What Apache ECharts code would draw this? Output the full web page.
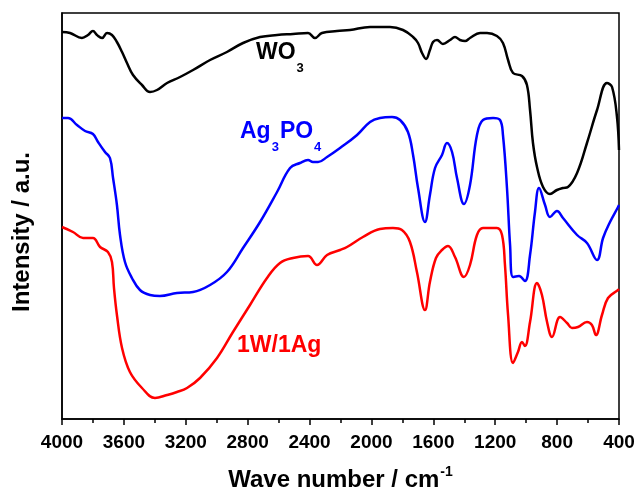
<!DOCTYPE html>
<html>
<head>
<meta charset="utf-8">
<script src="https://cdn.jsdelivr.net/npm/echarts@6/dist/echarts.min.js"></script>
<style>
html,body{margin:0;padding:0;background:#fff;}
#chart{width:638px;height:490px;}
</style>
</head>
<body>
<div id="chart"></div>
<script>
// x tick labels (wavenumber, cm-1)
const xTicks = [4000, 3600, 3200, 2800, 2400, 2000, 1600, 1200, 800, 400];

// WO3 (black)
const wnWO3 = [4000,3948,3871,3832,3800,3774,3741,3709,3677,3645,3612,3580,3541,3483,3431,3386,3321,3237,3153,3043,2934,2830,2720,2610,2507,2410,2365,2320,2223,2139,2009,1880,1796,1731,1699,1673,1647,1622,1602,1576,1538,1492,1460,1428,1395,1363,1298,1253,1189,1150,1117,1085,1027,995,975,956,930,891,846,801,762,730,671,607,542,478,445,413,400];
const intWO3 = [387,386,381,384,388,384,381,386,384,377,367,356,344,334,327,329,336,342,349,359,367,376,382,384,385,386,381,386,388,389,392,392,389,382,376,366,360,369,377,379,375,379,382,379,378,381,386,386,383,376,359,346,343,334,309,276,252,232,225,229,231,232,246,276,309,336,332,302,269];

// Ag3PO4 (blue)
const wnAg = [4000,3961,3903,3851,3800,3767,3722,3690,3670,3645,3625,3593,3548,3496,3431,3367,3257,3153,3043,2934,2830,2720,2610,2526,2462,2410,2378,2345,2287,2203,2093,2009,1945,1867,1815,1764,1731,1699,1654,1622,1589,1544,1512,1479,1447,1402,1363,1318,1279,1214,1169,1150,1124,1104,1085,1046,1008,975,943,917,878,846,801,762,671,607,542,503,458,406,400];
const intAg = [301,301,294,288,285,277,267,261,241,214,184,157,141,129,124,123,126,127,134,147,171,197,227,251,256,259,257,257,262,271,284,297,301,302,299,287,264,231,197,224,251,264,276,267,241,215,234,284,299,301,299,284,231,174,142,143,138,164,207,231,214,202,208,201,184,176,159,181,197,212,214];

// 1W/1Ag (red)
const wnW = [4000,3929,3864,3800,3754,3703,3677,3664,3645,3612,3561,3483,3399,3321,3257,3192,3108,2998,2895,2785,2675,2591,2507,2410,2352,2287,2203,2158,2055,1945,1861,1803,1751,1706,1654,1622,1583,1544,1505,1460,1402,1363,1318,1279,1189,1156,1137,1117,1085,1053,1027,1008,975,930,898,865,833,781,736,704,665,607,575,549,510,471,406,400];
const intW = [192,187,181,181,172,167,157,131,104,71,47,31,21,24,27,31,41,61,87,114,141,156,161,163,154,164,169,172,182,190,191,189,177,147,109,137,161,169,173,162,142,154,184,191,191,184,154,104,56,67,77,73,97,136,124,97,82,102,96,91,92,97,94,84,104,121,129,130];

const FONT = '"Liberation Sans", Arial, sans-serif';
function pairs(xs, ys) { return xs.map((x, i) => [x, ys[i]]); }

const chart = echarts.init(document.getElementById('chart'), null, {renderer: 'canvas'});

function subLabel(text, color, x, y) {
  return {
    type: 'text', x: x, y: y, z: 10,
    style: {
      text: text,
      fill: color,
      align: 'left',
      verticalAlign: 'top',
      rich: {
        a: {fontSize: 23, fontWeight: 'bold', fontFamily: FONT, fill: color, color: color, verticalAlign: 'top', padding: [0, 0, 11, 0]},
        b: {fontSize: 13, fontWeight: 'bold', fontFamily: FONT, fill: color, color: color, verticalAlign: 'bottom', padding: [0, 1, 0, 1]}
      }
    }
  };
}

const option = {
  animation: false,
  backgroundColor: '#fff',
  grid: {left: 62, right: 19, top: 13, bottom: 71, containLabel: false, outerBoundsMode: 'none', show: true, borderColor: '#000', borderWidth: 1.5, backgroundColor: 'transparent'},
  xAxis: {
    type: 'value',
    inverse: true,
    min: 400,
    max: 4000,
    interval: 400,
    axisLine: {show: true, lineStyle: {color: '#000', width: 1.5}},
    axisTick: {show: true, length: 6, lineStyle: {color: '#000', width: 1.5}},
    minorTick: {show: true, splitNumber: 2, length: 4, lineStyle: {color: '#000', width: 1.5}},
    splitLine: {show: false},
    minorSplitLine: {show: false},
    axisLabel: {
      color: '#000', fontSize: 19, fontWeight: 'bold', fontFamily: FONT, margin: 14,
      formatter: function (v) { return xTicks.indexOf(v) >= 0 ? String(v) : ''; }
    },
    name: '{a|Wave number / cm}{b|-1}',
    nameLocation: 'middle',
    nameGap: 46,
    nameTextStyle: {
      color: '#000',
      rich: {
        a: {fontSize: 24, fontWeight: 'bold', fontFamily: FONT, color: '#000', verticalAlign: 'bottom', padding: [3, 0, 0, 0]},
        b: {fontSize: 14, fontWeight: 'bold', fontFamily: FONT, color: '#000', verticalAlign: 'top', padding: [0, 0, 0, 1]}
      }
    }
  },
  yAxis: {
    type: 'value',
    min: 0,
    max: 406,
    axisLine: {show: true, lineStyle: {color: '#000', width: 1.5}},
    axisTick: {show: false},
    axisLabel: {show: false},
    splitLine: {show: false}
  },
  series: [
    {name: 'WO3', type: 'line', data: pairs(wnWO3, intWO3), showSymbol: false, smooth: 0.4, lineStyle: {color: '#000', width: 2.5}, itemStyle: {color: '#000'}},
    {name: 'Ag3PO4', type: 'line', data: pairs(wnAg, intAg), showSymbol: false, smooth: 0.4, lineStyle: {color: '#0000ff', width: 2.5}, itemStyle: {color: '#0000ff'}},
    {name: '1W/1Ag', type: 'line', data: pairs(wnW, intW), showSymbol: false, smooth: 0.4, lineStyle: {color: '#ff0000', width: 2.5}, itemStyle: {color: '#ff0000'}}
  ],
  graphic: [
    subLabel('{a|WO}{b|3}', '#000', 256, 41),
    subLabel('{a|Ag}{b|3}{a|PO}{b|4}', '#0000ff', 240, 120),
    subLabel('{a|1W/1Ag}', '#ff0000', 237, 334),
    {
      type: 'text', x: 22, y: 232, rotation: Math.PI / 2,
      style: {text: 'Intensity / a.u.', fill: '#000', font: 'bold 24px ' + FONT, align: 'center', verticalAlign: 'middle'}
    }
  ]
};
chart.setOption(option);
</script>
</body>
</html>
